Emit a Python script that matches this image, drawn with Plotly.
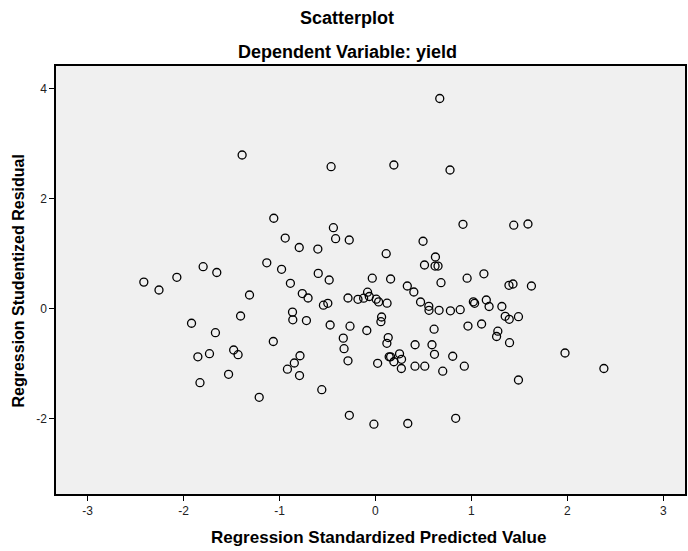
import plotly.graph_objects as go

# Regression Standardized Predicted Value
pred = [0.670, -1.389, 0.192, -0.462, 0.777, -1.059, 0.912, 1.441, 1.589, -0.438,
        -0.940, -0.415, -0.273, -0.794, -0.600, 0.496, 0.112, -1.132, -0.978, -0.596,
        -0.482, -0.033, -2.413, -2.255, -2.069, -1.795, -1.653, -0.886, -0.762, -0.702,
        -1.312, -0.542, -0.496, -0.286, -0.182, -0.123, -0.082, -0.064, 0.008, 0.033,
        0.121, -0.864, -0.861, -0.719, -1.405, -1.916, -1.667, -0.472, -0.265, -0.090,
        -0.335, -1.064, -1.477, -0.327, 0.625, 0.511, 0.621, 0.652, 0.158, 0.332,
        0.400, 0.683, 0.955, 1.130, 1.391, 1.433, 1.625, 0.470, 0.556, 0.558,
        0.663, 0.781, 0.883, 1.020, 1.033, 1.155, 1.184, 1.317, 1.352, 1.394,
        1.490, 0.064, 0.057, 0.611, 0.964, 1.106, 1.275, 1.262, 1.397, 0.133,
        0.119, 0.413, 0.589, 1.975, -1.850, -1.729, -1.431, -0.786, -0.845, -0.917,
        -0.791, -0.286, 0.023, -1.530, -1.828, -1.211, -0.559, -0.272, -0.016, 2.380,
        0.143, 0.158, 0.251, 0.272, 0.192, 0.270, 0.412, 0.514, 0.615, 0.805,
        0.701, 0.926, 1.490, 0.337, 0.836]

# Regression Studentized Residual
resid = [3.822, 2.795, 2.613, 2.582, 2.522, 1.645, 1.535, 1.518, 1.540, 1.473,
         1.285, 1.273, 1.249, 1.113, 1.085, 1.227, 1.000, 0.835, 0.716, 0.642,
         0.522, 0.555, 0.484, 0.340, 0.571, 0.764, 0.658, 0.462, 0.275, 0.195,
         0.249, 0.064, 0.098, 0.195, 0.171, 0.191, 0.300, 0.222, 0.173, 0.124,
         0.100, -0.062, -0.202, -0.215, -0.133, -0.264, -0.436, -0.296, -0.318, -0.396,
         -0.535, -0.596, -0.751, -0.727, 0.940, 0.795, 0.776, 0.776, 0.540, 0.413,
         0.304, 0.473, 0.555, 0.635, 0.425, 0.449, 0.413, 0.122, 0.044, -0.029,
         -0.029, -0.038, -0.018, 0.125, 0.098, 0.158, 0.040, 0.040, -0.138, -0.193,
         -0.145, -0.151, -0.236, -0.373, -0.315, -0.278, -0.409, -0.505, -0.618, -0.525,
         -0.629, -0.655, -0.655, -0.805, -0.875, -0.818, -0.836, -0.855, -0.987, -1.100,
         -1.215, -0.947, -0.993, -1.193, -1.345, -1.611, -1.473, -1.938, -2.100, -1.087,
         -0.875, -0.875, -0.820, -0.920, -0.964, -1.087, -1.045, -1.045, -0.829, -0.864,
         -1.136, -1.045, -1.296, -2.087, -1.993]

x_ticks = [-3, -2, -1, 0, 1, 2, 3]
x_tick_labels = ["-3", "-2", "-1", "0", "1", "2", "3"]
y_ticks = [-2, 0, 2, 4]
y_tick_labels = ["-2", "0", "2", "4"]

title_main = "Scatterplot"
title_sub = "Dependent Variable: yield"
x_title = "Regression Standardized Predicted Value"
y_title = "Regression Studentized Residual"

FONT = "Liberation Sans, Arial, sans-serif"

fig = go.Figure()
fig.add_trace(go.Scatter(
    x=pred, y=resid, mode="markers",
    marker=dict(symbol="circle-open", size=8, color="black",
                line=dict(width=1.3, color="black")),
    hoverinfo="x+y", showlegend=False))

axis_common = dict(showline=True, mirror=True, linecolor="black", linewidth=1.5,
                   ticks="outside", ticklen=5, tickwidth=1, tickcolor="black",
                   showgrid=False, zeroline=False,
                   tickfont=dict(family=FONT, size=12, color="#222222"))

fig.update_layout(
    width=688, height=551,
    margin=dict(l=56, r=1, t=66, b=57, pad=0),
    paper_bgcolor="white", plot_bgcolor="#f0f0f0",
    xaxis=dict(range=[-3.328, 3.225], tickvals=x_ticks, ticktext=x_tick_labels, **axis_common),
    yaxis=dict(range=[-3.369, 4.413], tickvals=y_ticks, ticktext=y_tick_labels, **axis_common),
    font=dict(family=FONT),
)

fig.add_annotation(text="<b>%s</b>" % title_main, xref="paper", yref="paper",
                   x=0.463, y=1.112, xanchor="center", yanchor="middle", showarrow=False,
                   font=dict(family=FONT, size=18, color="black"))
fig.add_annotation(text="<b>%s</b>" % title_sub, xref="paper", yref="paper",
                   x=0.463, y=1.0327, xanchor="center", yanchor="middle", showarrow=False,
                   font=dict(family=FONT, size=18, color="black"))
fig.add_annotation(text="<b>%s</b>" % x_title, xref="paper", yref="paper",
                   x=0.512, y=-0.1028, xanchor="center", yanchor="middle", showarrow=False,
                   font=dict(family=FONT, size=17, color="black"))
fig.add_annotation(text="<b>%s</b>" % y_title, xref="paper", yref="paper",
                   x=-0.0594, y=0.498, xanchor="center", yanchor="middle", showarrow=False,
                   textangle=-90, font=dict(family=FONT, size=16, color="black"))

fig.write_html("out.html")
